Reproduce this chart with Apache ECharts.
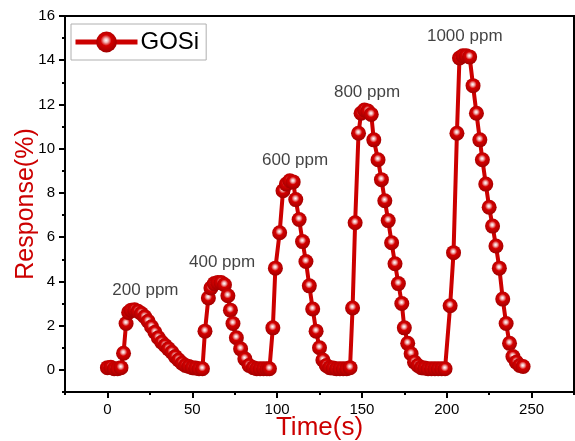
<!DOCTYPE html>
<html>
<head>
<meta charset="utf-8">
<script src="https://cdn.jsdelivr.net/npm/echarts@6/dist/echarts.min.js"></script>
<style>html,body{margin:0;padding:0;background:#fff;}#c{width:575px;height:441px;}</style>
</head>
<body>
<div id="c"></div>
<script>
// ---- data ----
var timeS = [
  0,2,4,6,8,9.5,11,12.5,14,16,18,20,22,24,26,28,30,32,34,36,38,40,42,44,46,48,50,52,54,56,
  57.5,59.5,61,63,65,67,69,71,72.5,74,76,78.5,81,83.5,86,88,90,92,94,95.5,
  97.5,99,101.5,103.5,105.5,107.5,109.5,111,113,115,117,119,121,123,125,127,129,131,133,135,137,139,141,143,
  144.5,146,148,149.5,151.5,153.5,155.5,157,159.5,161.5,163.5,165.5,167.5,169.5,171.5,173.5,175,177,179,181,183,185,187,189,191,193,195,197,199,
  202,204,206,207.5,209.5,211.5,213.5,215.5,217.5,219.5,221,223,225,227,229,231,233,235,237,239,241,243,245
];
var responsePct = [
  0.1,0.12,0.05,0.05,0.1,0.75,2.1,2.6,2.7,2.72,2.65,2.55,2.4,2.2,1.95,1.7,1.45,1.25,1.1,0.95,0.8,0.6,0.45,0.3,0.2,0.15,0.1,0.08,0.05,0.05,
  1.75,3.25,3.7,3.9,3.95,3.95,3.85,3.35,2.7,2.1,1.45,0.95,0.5,0.2,0.1,0.05,0.05,0.05,0.05,0.05,
  1.9,4.6,6.2,8.1,8.4,8.55,8.5,7.7,6.8,5.8,4.9,3.8,2.75,1.75,1.0,0.45,0.2,0.1,0.08,0.05,0.05,0.05,0.05,0.1,
  2.8,6.65,10.7,11.6,11.75,11.7,11.55,10.4,9.5,8.6,7.65,6.75,5.75,4.8,3.9,3.0,1.9,1.2,0.73,0.35,0.2,0.1,0.08,0.05,0.05,0.05,0.05,0.05,0.05,
  2.9,5.3,10.7,14.1,14.2,14.2,14.15,12.85,11.6,10.4,9.5,8.4,7.35,6.5,5.6,4.6,3.2,2.1,1.2,0.6,0.35,0.2,0.15
];
var seriesName = 'GOSi';
var annotText = ['200 ppm','400 ppm','600 ppm','800 ppm','1000 ppm'];
var annotT = [22.4, 67.6, 110.6, 153, 210.6];
var annotV = [3.58, 4.85, 9.47, 12.56, 15.1];
var xMajorTicks = [0,50,100,150,200,250];
var xMinorTicks = [-25,25,75,125,175,225,275];
var yMajorTicks = [0,2,4,6,8,10,12,14,16];
var yMinorTicks = [-1,1,3,5,7,9,11,13,15];

// ---- chart ----
var FONT = 'Liberation Sans, Arial, sans-serif';
var RED = '#cc0000';
var chart = echarts.init(document.getElementById('c'), null, {renderer:'canvas'});
var ball = new echarts.graphic.RadialGradient(0.48, 0.42, 0.58, [
  {offset:0, color:'#ffffff'},
  {offset:0.18, color:'#f2b8b8'},
  {offset:0.45, color:'#d40000'},
  {offset:1, color:'#a00000'}
]);
var lineData = timeS.map(function(t,i){return [t, responsePct[i]];});
var annotData = annotText.map(function(s,i){return {name:s, value:[annotT[i], annotV[i]]};});

chart.setOption({
  animation:false,
  backgroundColor:'#fff',
  grid:{left:65, right:1, top:16, bottom:49, show:true, borderColor:'#000', borderWidth:2,
        containLabel:false, outerBoundsMode:'none'},
  legend:{
    data:[seriesName], left:71, top:24, orient:'horizontal',
    itemWidth:62, itemHeight:26, itemGap:6,
    padding:[6,7,6,2],
    borderColor:'#b0b0b0', borderWidth:1, backgroundColor:'#fff',
    lineStyle:{width:5, color:RED},
    textStyle:{fontSize:24, fontFamily:FONT, color:'#000', padding:[0,0,0,-2]}
  },
  xAxis:[
    {
      type:'value', min:-25, max:275, position:'bottom',
      axisLine:{show:true, onZero:false, lineStyle:{color:'#000', width:2}},
      splitLine:{show:false},
      name:'Time(s)', nameLocation:'middle', nameGap:23, nameMoveOverlap:false,
      nameTextStyle:{color:RED, fontSize:26, fontFamily:FONT},
      axisTick:{show:true, length:6, customValues:xMajorTicks, lineStyle:{color:'#000', width:2}},
      axisLabel:{show:true, customValues:xMajorTicks, fontSize:15, fontFamily:FONT, color:'#000', margin:10}
    },
    {
      type:'value', min:-25, max:275, position:'bottom', gridIndex:0,
      axisLine:{show:false, onZero:false}, splitLine:{show:false},
      axisTick:{show:true, length:3, customValues:xMinorTicks, lineStyle:{color:'#000', width:2}},
      axisLabel:{show:false}
    }
  ],
  yAxis:[
    {
      type:'value', min:-1, max:16, position:'left',
      axisLine:{show:true, onZero:false, lineStyle:{color:'#000', width:2}},
      splitLine:{show:false},
      name:'Response(%)', nameLocation:'middle', nameGap:26, nameMoveOverlap:false,
      nameTextStyle:{color:RED, fontSize:25, fontFamily:FONT},
      axisTick:{show:true, length:6, customValues:yMajorTicks, lineStyle:{color:'#000', width:2}},
      axisLabel:{show:true, customValues:yMajorTicks, fontSize:15, fontFamily:FONT, color:'#000', margin:10}
    },
    {
      type:'value', min:-1, max:16, position:'left',
      axisLine:{show:false, onZero:false}, splitLine:{show:false},
      axisTick:{show:true, length:3, customValues:yMinorTicks, lineStyle:{color:'#000', width:2}},
      axisLabel:{show:false}
    }
  ],
  series:[
    {
      name:seriesName, type:'line', data:lineData,
      symbol:'circle', symbolSize:15, showAllSymbol:true,
      lineStyle:{color:RED, width:4},
      itemStyle:{color:ball, borderWidth:0},
      z:3
    },
    {
      name:'annot', type:'scatter', data:annotData, symbolSize:0, silent:true,
      label:{show:true, position:'inside', formatter:'{b}', color:'#111', fontSize:17, fontFamily:FONT},
      z:4
    }
  ]
});
</script>
</body>
</html>
